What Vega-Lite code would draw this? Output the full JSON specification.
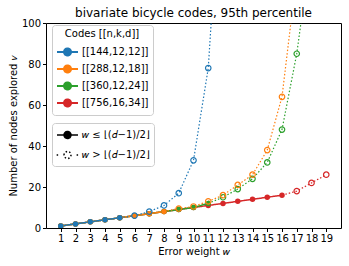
{
  "$schema": "https://vega.github.io/schema/vega-lite/v6.json",
  "width": 295,
  "height": 205,
  "autosize": {"type": "none"},
  "padding": {"left": 46, "top": 23, "right": 8, "bottom": 38},
  "title": {"text": "bivariate bicycle codes, 95th percentile", "fontSize": 12, "fontWeight": "normal", "font": "DejaVu Sans", "color": "black", "offset": -2},
  "config": {
    "font": "DejaVu Sans",
    "view": {"stroke": "black", "strokeWidth": 1},
    "axis": {"grid": false, "domain": false, "tickColor": "black", "tickSize": 3.5, "labelColor": "black", "labelFontSize": 10, "titleFontSize": 10, "titleFontWeight": "normal", "titleColor": "black", "labelPadding": 2, "labelFont": "DejaVu Sans", "titleFont": "DejaVu Sans"},
    "legend": {"strokeColor": "#cccccc", "fillColor": "white", "cornerRadius": 3, "padding": 4, "labelFontSize": 10, "titleFontSize": 10, "titleFontWeight": "normal", "labelColor": "black", "titleColor": "black", "labelFont": "DejaVu Sans", "titleFont": "DejaVu Sans"}
  },
  "data": {"values": [
    {"code": "[[756,16,34]]", "d": 34, "w": 1, "v": 1},
    {"code": "[[756,16,34]]", "d": 34, "w": 2, "v": 2},
    {"code": "[[756,16,34]]", "d": 34, "w": 3, "v": 3},
    {"code": "[[756,16,34]]", "d": 34, "w": 4, "v": 4},
    {"code": "[[756,16,34]]", "d": 34, "w": 5, "v": 5},
    {"code": "[[756,16,34]]", "d": 34, "w": 6, "v": 6},
    {"code": "[[756,16,34]]", "d": 34, "w": 7, "v": 7},
    {"code": "[[756,16,34]]", "d": 34, "w": 8, "v": 8},
    {"code": "[[756,16,34]]", "d": 34, "w": 9, "v": 9},
    {"code": "[[756,16,34]]", "d": 34, "w": 10, "v": 10},
    {"code": "[[756,16,34]]", "d": 34, "w": 11, "v": 11},
    {"code": "[[756,16,34]]", "d": 34, "w": 12, "v": 12},
    {"code": "[[756,16,34]]", "d": 34, "w": 13, "v": 13},
    {"code": "[[756,16,34]]", "d": 34, "w": 14, "v": 14},
    {"code": "[[756,16,34]]", "d": 34, "w": 15, "v": 15},
    {"code": "[[756,16,34]]", "d": 34, "w": 16, "v": 16},
    {"code": "[[756,16,34]]", "d": 34, "w": 17, "v": 18},
    {"code": "[[756,16,34]]", "d": 34, "w": 18, "v": 22},
    {"code": "[[756,16,34]]", "d": 34, "w": 19, "v": 26},
    {"code": "[[360,12,24]]", "d": 24, "w": 1, "v": 1},
    {"code": "[[360,12,24]]", "d": 24, "w": 2, "v": 2},
    {"code": "[[360,12,24]]", "d": 24, "w": 3, "v": 3},
    {"code": "[[360,12,24]]", "d": 24, "w": 4, "v": 4},
    {"code": "[[360,12,24]]", "d": 24, "w": 5, "v": 5},
    {"code": "[[360,12,24]]", "d": 24, "w": 6, "v": 6},
    {"code": "[[360,12,24]]", "d": 24, "w": 7, "v": 7},
    {"code": "[[360,12,24]]", "d": 24, "w": 8, "v": 8},
    {"code": "[[360,12,24]]", "d": 24, "w": 9, "v": 9},
    {"code": "[[360,12,24]]", "d": 24, "w": 10, "v": 10},
    {"code": "[[360,12,24]]", "d": 24, "w": 11, "v": 12},
    {"code": "[[360,12,24]]", "d": 24, "w": 12, "v": 15},
    {"code": "[[360,12,24]]", "d": 24, "w": 13, "v": 19},
    {"code": "[[360,12,24]]", "d": 24, "w": 14, "v": 24},
    {"code": "[[360,12,24]]", "d": 24, "w": 15, "v": 32},
    {"code": "[[360,12,24]]", "d": 24, "w": 16, "v": 48},
    {"code": "[[360,12,24]]", "d": 24, "w": 17, "v": 85},
    {"code": "[[360,12,24]]", "d": 24, "w": 18, "v": 138},
    {"code": "[[288,12,18]]", "d": 18, "w": 1, "v": 1},
    {"code": "[[288,12,18]]", "d": 18, "w": 2, "v": 2},
    {"code": "[[288,12,18]]", "d": 18, "w": 3, "v": 3},
    {"code": "[[288,12,18]]", "d": 18, "w": 4, "v": 4},
    {"code": "[[288,12,18]]", "d": 18, "w": 5, "v": 5},
    {"code": "[[288,12,18]]", "d": 18, "w": 6, "v": 6},
    {"code": "[[288,12,18]]", "d": 18, "w": 7, "v": 7},
    {"code": "[[288,12,18]]", "d": 18, "w": 8, "v": 8},
    {"code": "[[288,12,18]]", "d": 18, "w": 9, "v": 9.5},
    {"code": "[[288,12,18]]", "d": 18, "w": 10, "v": 10.5},
    {"code": "[[288,12,18]]", "d": 18, "w": 11, "v": 13},
    {"code": "[[288,12,18]]", "d": 18, "w": 12, "v": 16},
    {"code": "[[288,12,18]]", "d": 18, "w": 13, "v": 21},
    {"code": "[[288,12,18]]", "d": 18, "w": 14, "v": 26},
    {"code": "[[288,12,18]]", "d": 18, "w": 15, "v": 38},
    {"code": "[[288,12,18]]", "d": 18, "w": 16, "v": 64},
    {"code": "[[288,12,18]]", "d": 18, "w": 17, "v": 124},
    {"code": "[[144,12,12]]", "d": 12, "w": 1, "v": 1},
    {"code": "[[144,12,12]]", "d": 12, "w": 2, "v": 2},
    {"code": "[[144,12,12]]", "d": 12, "w": 3, "v": 3},
    {"code": "[[144,12,12]]", "d": 12, "w": 4, "v": 4},
    {"code": "[[144,12,12]]", "d": 12, "w": 5, "v": 5},
    {"code": "[[144,12,12]]", "d": 12, "w": 6, "v": 6},
    {"code": "[[144,12,12]]", "d": 12, "w": 7, "v": 8},
    {"code": "[[144,12,12]]", "d": 12, "w": 8, "v": 11},
    {"code": "[[144,12,12]]", "d": 12, "w": 9, "v": 17},
    {"code": "[[144,12,12]]", "d": 12, "w": 10, "v": 33},
    {"code": "[[144,12,12]]", "d": 12, "w": 11, "v": 78},
    {"code": "[[144,12,12]]", "d": 12, "w": 12, "v": 190}
  ]},
  "encoding": {
    "x": {"field": "w", "type": "quantitative", "scale": {"domain": [0, 20], "nice": false}, "axis": {"values": [1,2,3,4,5,6,7,8,9,10,11,12,13,14,15,16,17,18,19], "title": "Error weight 𝑤", "labelFlush": false, "titlePadding": 3}},
    "y": {"field": "v", "type": "quantitative", "scale": {"domain": [0, 100], "nice": false}, "axis": {"values": [0,20,40,60,80,100], "title": "Number of nodes explored 𝜈", "titlePadding": 3}},
    "color": {"field": "code", "type": "nominal",
      "scale": {"domain": ["[[144,12,12]]", "[[288,12,18]]", "[[360,12,24]]", "[[756,16,34]]"], "range": ["#1f77b4", "#ff7f0e", "#2ca02c", "#d62728"]},
      "legend": {"title": "Codes [[n,k,d]]", "orient": "none", "legendX": 6, "legendY": 2, "symbolSize": 196, "rowPadding": 1, "labelOffset": 10, "titleAnchor": "middle",
        "encode": {"symbols": {"update": {
          "shape": {"value": "M-1,0L2,0M0,0A0.5,0.5 0 1,1 1,0A0.5,0.5 0 1,1 0,0Z"},
          "fill": {"signal": "scale('color', datum.value)"},
          "stroke": {"signal": "scale('color', datum.value)"},
          "strokeWidth": {"value": 2},
          "strokeDash": {"value": [1, 0]},
          "opacity": {"value": 1}
        }}}}
    }
  },
  "layer": [
    {
      "transform": [{"filter": "datum.w <= floor((datum.d - 1) / 2)"}],
      "mark": {"type": "line", "strokeWidth": 1.5, "clip": true},
      "encoding": {
        "strokeDash": {"datum": "𝑤 ≤ ⌊(𝑑−1)/2⌋", "type": "nominal",
          "scale": {"domain": ["𝑤 ≤ ⌊(𝑑−1)/2⌋", "𝑤 > ⌊(𝑑−1)/2⌋"], "range": [[1, 0], [1.5, 2]]},
          "legend": {"title": null, "orient": "none", "legendX": 6, "legendY": 100, "symbolSize": 196, "rowPadding": 5, "labelOffset": 10,
            "encode": {"symbols": {"update": {
              "shape": {"signal": "datum.value === '𝑤 ≤ ⌊(𝑑−1)/2⌋' ? 'M-1,0L2,0M0,0A0.5,0.5 0 1,1 1,0A0.5,0.5 0 1,1 0,0Z' : 'M-1.05,0L-0.8,0M1.8,0L2.05,0M0,0A0.5,0.5 0 1,1 1,0A0.5,0.5 0 1,1 0,0Z'"},
              "fill": {"signal": "datum.value === '𝑤 ≤ ⌊(𝑑−1)/2⌋' ? 'black' : 'transparent'"},
              "stroke": {"value": "black"},
              "strokeWidth": {"value": 1.5},
              "strokeDash": {"value": [1, 0]},
              "opacity": {"value": 1}
            }}}}
        }
      }
    },
    {
      "transform": [{"filter": "datum.w >= floor((datum.d - 1) / 2)"}],
      "mark": {"type": "line", "strokeWidth": 1.2, "clip": true},
      "encoding": {
        "strokeDash": {"datum": "𝑤 > ⌊(𝑑−1)/2⌋", "type": "nominal"}
      }
    },
    {
      "transform": [{"filter": "datum.w <= floor((datum.d - 1) / 2)"}],
      "mark": {"type": "point", "filled": true, "size": 30, "opacity": 1, "clip": true}
    },
    {
      "transform": [{"filter": "datum.w > floor((datum.d - 1) / 2)"}],
      "mark": {"type": "point", "filled": false, "size": 30, "strokeWidth": 1.2, "opacity": 1, "clip": true}
    }
  ]
}
